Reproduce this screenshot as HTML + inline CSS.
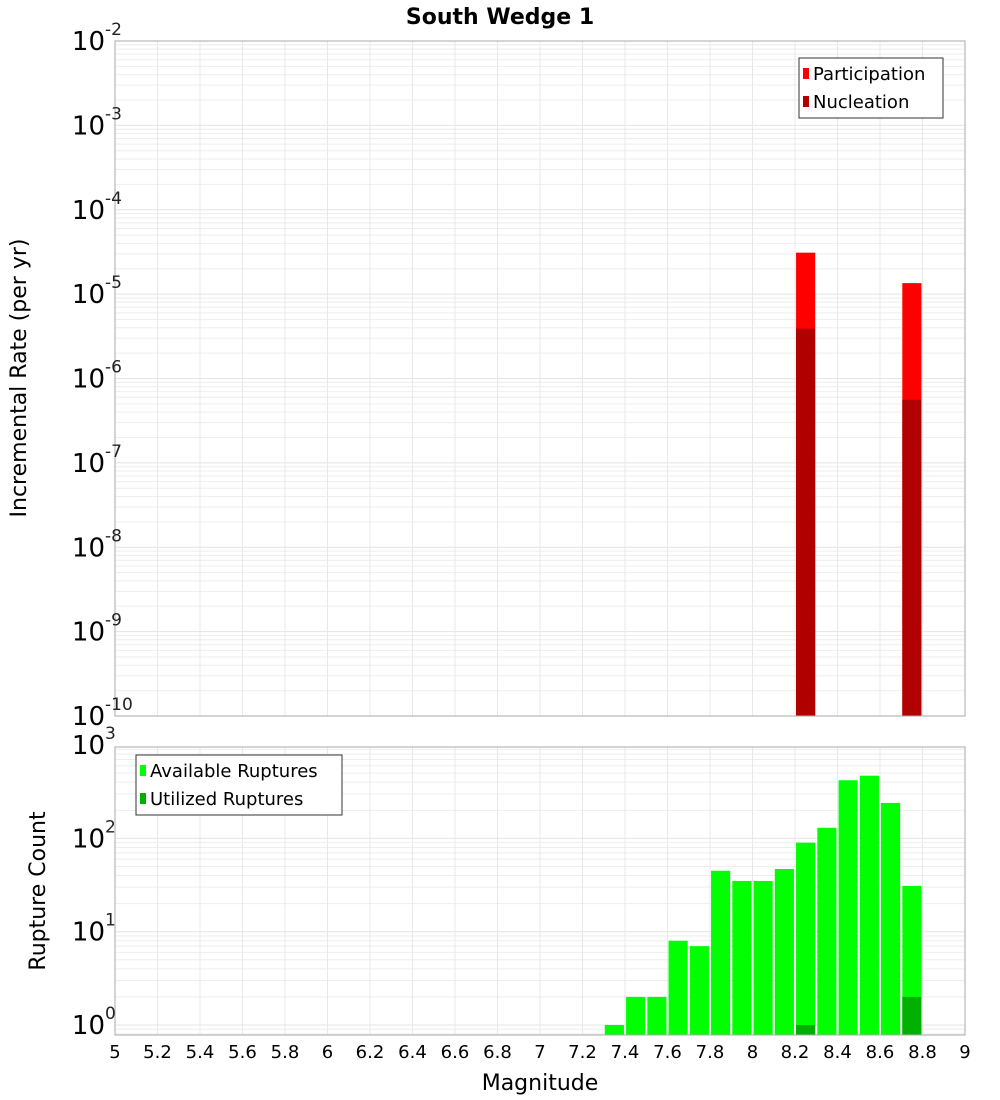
<!DOCTYPE html>
<html><head><meta charset="utf-8"><style>
body{margin:0;background:#fff;}
svg{display:block;font-family:"DejaVu Sans","Liberation Sans",sans-serif;}
</style></head><body>
<svg id="c" width="1000" height="1100" xmlns="http://www.w3.org/2000/svg">
<text x="500" y="24" text-anchor="middle" font-size="22" font-weight="bold">South Wedge 1</text>
<g id="topPanel"></g>
<g id="botPanel"></g>
<text transform="translate(26,378) rotate(-90)" text-anchor="middle" font-size="22">Incremental Rate (per yr)</text>
<text transform="translate(45,891) rotate(-90)" text-anchor="middle" font-size="22">Rupture Count</text>
<text x="540" y="1090" text-anchor="middle" font-size="22">Magnitude</text>
</svg>
<script>
const xTicks=[5,5.2,5.4,5.6,5.8,6,6.2,6.4,6.6,6.8,7,7.2,7.4,7.6,7.8,8,8.2,8.4,8.6,8.8,9];
const rateMags=[8.25,8.75];
const participation=[3.1e-5,1.35e-5];
const nucleation=[3.9e-6,5.6e-7];
const rateExps=[-10,-9,-8,-7,-6,-5,-4,-3,-2];
const countMags=[7.35,7.45,7.55,7.65,7.75,7.85,7.95,8.05,8.15,8.25,8.35,8.45,8.55,8.65,8.75];
const available=[1,2,2,8,7,45,35,35,47,90,130,420,470,240,31];
const utilizedMags=[8.25,8.75];
const utilized=[1,2];
const countExps=[0,1,2,3];

const NS="http://www.w3.org/2000/svg";
function mk(p,t,a){const e=document.createElementNS(NS,t);for(const k in a)e.setAttribute(k,a[k]);p.appendChild(e);return e;}
const X0=115,X1=965;
const xs=m=>X0+(m-5)/4*(X1-X0);
const T0=41,T1=716; const ty=v=>T0+(-2-Math.log10(v))/8*(T1-T0);
const B0=747,B1=1035; const cdec=93.3; const by=v=>1025-Math.log10(v)*cdec;
const topG=document.getElementById('topPanel'),botG=document.getElementById('botPanel');

function grid(g,y0,y1,yf,lo,hi){
  for(let e=lo;e<=hi;e++)for(let k=1;k<10;k++){const y=yf(k*Math.pow(10,e));if(y<y0-0.5||y>y1+0.5)continue;
    const l=mk(g,'line',{x1:X0,x2:X1,y1:y,y2:y,stroke:k==1?'#e4e4e4':'#eeeeee','stroke-width':1});
    
    }
  xTicks.forEach(t=>{const l=mk(g,'line',{x1:xs(t),x2:xs(t),y1:y0,y2:y1,stroke:'#e8e8e8'});
    
    });
}
grid(topG,T0,T1,ty,-10,-3);
grid(botG,B0,B1,by,-1,2);

const bw=0.09*(X1-X0)/4;
rateMags.forEach((m,i)=>{
  const r=mk(topG,'rect',{x:xs(m)-bw/2,y:ty(participation[i]),width:bw,height:T1-ty(participation[i]),fill:'#ff0000'});
  
  
  const n=mk(topG,'rect',{x:xs(m)-bw/2,y:ty(nucleation[i]),width:bw,height:T1-ty(nucleation[i]),fill:'#b00000'});
  
  
});
const cw=0.09*(X1-X0)/4;
countMags.forEach((m,i)=>{
  const r=mk(botG,'rect',{x:xs(m)-cw/2,y:by(available[i]),width:cw,height:B1-by(available[i]),fill:'#00ff00'});
  
  
});
utilizedMags.forEach((m,i)=>{
  const r=mk(botG,'rect',{x:xs(m)-cw/2,y:by(utilized[i]),width:cw,height:B1-by(utilized[i]),fill:'#00b000'});
  
  
});
[[T0,T1,topG],[B0,B1,botG]].forEach(([a,b,g])=>{
  const f=mk(g,'rect',{x:X0,y:a,width:X1-X0,height:b-a,fill:'none',stroke:'#aaaaaa'});
  
  
});
function expLabel(g,y,e){
  const t=mk(g,'text',{x:105,y:y+9,'text-anchor':'end','font-size':26});
  
  
  t.textContent='10';
  const s=mk(g,'text',{x:105,y:y-6,'font-size':17,fill:'#222'});
  
  
  s.textContent=String(e);
}
rateExps.forEach(e=>expLabel(topG,ty(Math.pow(10,e)),e));
countExps.forEach(e=>expLabel(botG,by(Math.pow(10,e)),e));
xTicks.forEach(t=>{
  const l=mk(botG,'text',{x:xs(t),y:1058,'text-anchor':'middle','font-size':18});
  
  
  l.textContent=String(t);
});
function legend(g,x,y,w,items){
  const b=mk(g,'rect',{x:x,y:y,width:w,height:60,fill:'#fff',stroke:'#333'});
  
  
  items.forEach(([c,txt],i)=>{
    const s=mk(g,'rect',{x:x+4,y:y+10+i*28,width:6,height:11,fill:c});
    
    
    const t=mk(g,'text',{x:x+14,y:y+22+i*28,'font-size':18});
    
    
    t.textContent=txt;
  });
}
legend(topG,799,58,144,[['#ff0000','Participation'],['#b00000','Nucleation']]);
legend(botG,136,755,206,[['#00ff00','Available Ruptures'],['#00b000','Utilized Ruptures']]);
</script>
</body></html>
